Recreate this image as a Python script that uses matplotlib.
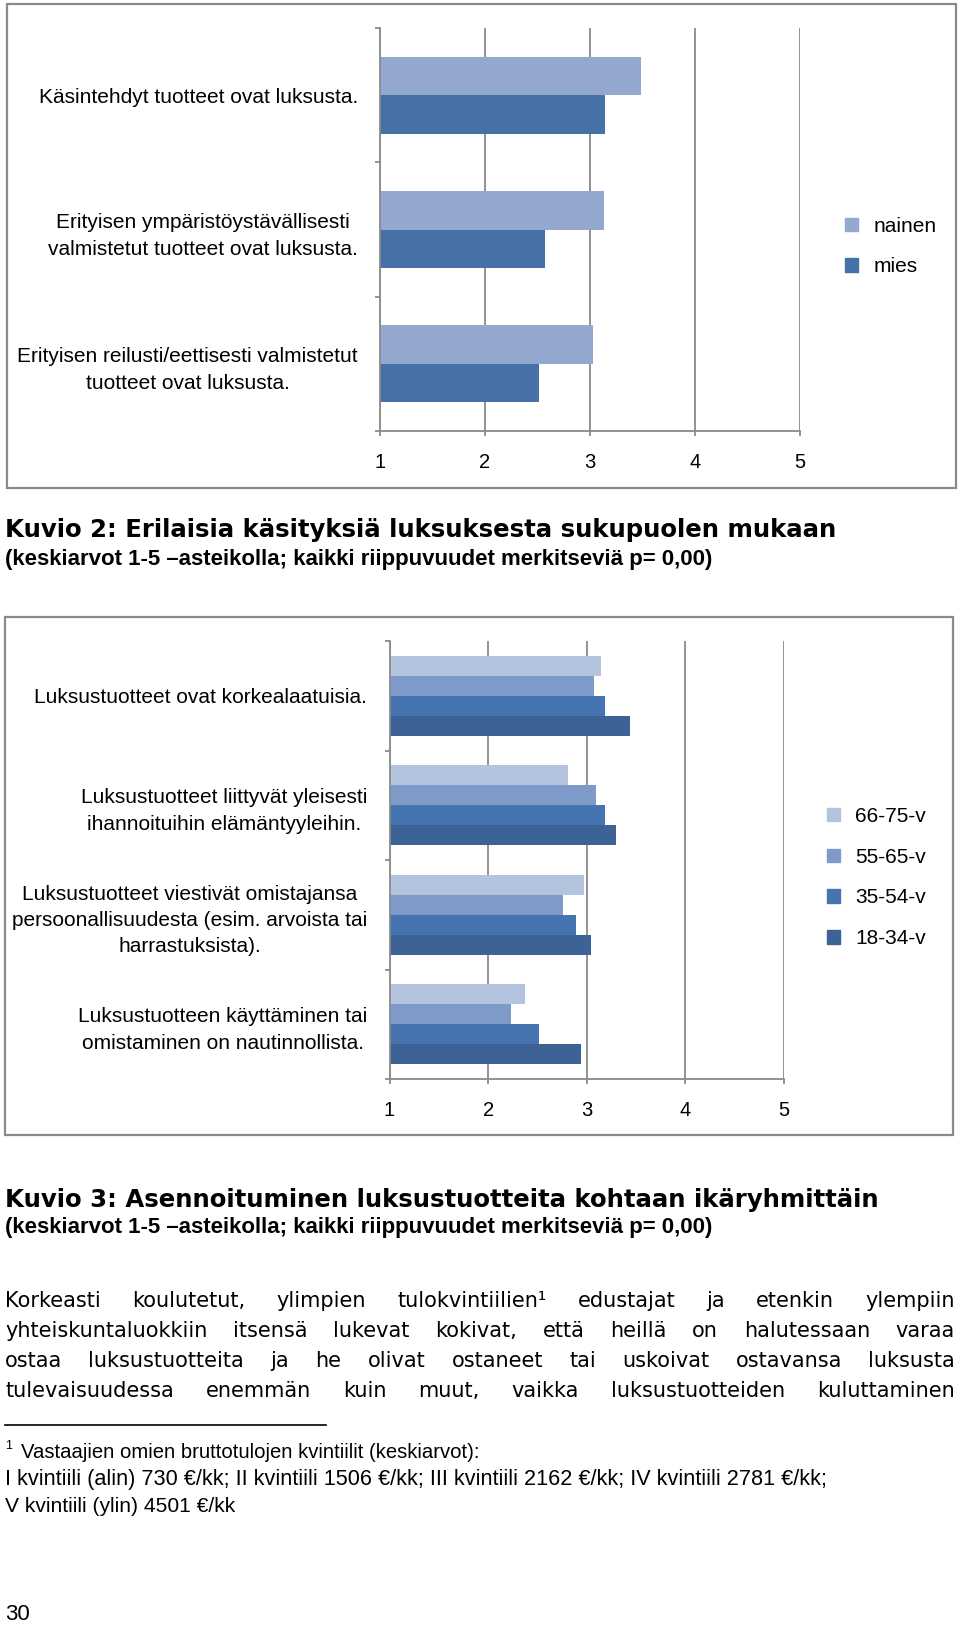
import matplotlib
matplotlib.use("Agg")
import matplotlib.pyplot as plt
from matplotlib.patches import Rectangle, Patch
from matplotlib.lines import Line2D

# ---------------- data ----------------
statements1 = ["Käsintehdyt tuotteet ovat luksusta.",
               "Erityisen ympäristöystävällisesti\nvalmistetut tuotteet ovat luksusta.",
               "Erityisen reilusti/eettisesti valmistetut\ntuotteet ovat luksusta."]
series1 = ["nainen", "mies"]
nainen = [3.49, 3.13, 3.03]
mies = [3.14, 2.57, 2.51]

statements2 = ["Luksustuotteet ovat korkealaatuisia.",
               "Luksustuotteet liittyvät yleisesti\nihannoituihin elämäntyyleihin.",
               "Luksustuotteet viestivät omistajansa\npersoonallisuudesta (esim. arvoista tai\nharrastuksista).",
               "Luksustuotteen käyttäminen tai\nomistaminen on nautinnollista."]
series2 = ["66-75-v", "55-65-v", "35-54-v", "18-34-v"]
age_66_75 = [3.14, 2.81, 2.97, 2.37]
age_55_65 = [3.07, 3.09, 2.76, 2.23]
age_35_54 = [3.18, 3.18, 2.89, 2.52]
age_18_34 = [3.44, 3.30, 3.04, 2.94]

xticks = [1, 2, 3, 4, 5]

# ---------------- figure ----------------
W, H = 960, 1627
fig = plt.figure(figsize=(W / 100, H / 100), dpi=100)
fig.patch.set_facecolor("white")
SANS = ["Liberation Sans", "DejaVu Sans"]
GRAY = "#8a8a8a"


def fx(x):
    return x / W


def fy(y):
    return 1 - y / H


def axes_px(x0, y0, x1, y1):
    return fig.add_axes([fx(x0), fy(y1), (x1 - x0) / W, (y1 - y0) / H])


def frame(x0, y0, x1, y1):
    fig.add_artist(Rectangle((fx(x0), fy(y1)), (x1 - x0) / W, (y1 - y0) / H,
                             transform=fig.transFigure, fill=False,
                             edgecolor=GRAY, linewidth=1.6))


def style_axes(ax, n):
    ax.set_xlim(1, 5)
    ax.set_ylim(n - 0.5, -0.5)
    ax.set_xticks(xticks)
    ax.set_xticklabels([str(t) for t in xticks], fontsize=14.5, family=SANS)
    for s in ["top", "right"]:
        ax.spines[s].set_visible(False)
    for s in ["left", "bottom"]:
        ax.spines[s].set_color(GRAY)
        ax.spines[s].set_linewidth(1.3)
    ax.grid(axis="x", color=GRAY, linewidth=1.3)
    ax.set_axisbelow(True)
    ax.tick_params(axis="x", direction="out", length=3.6, width=1.3,
                   color=GRAY, pad=12)
    ax.set_yticks(range(n))
    ax.set_yticks([i - 0.5 for i in range(n + 1)], minor=True)
    ax.tick_params(axis="y", which="major", length=0, pad=16)
    ax.tick_params(axis="y", which="minor", direction="out", length=3.6,
                   width=1.3, color=GRAY)


# ---------------- chart 1 ----------------
frame(7, 4, 956, 488)
ax1 = axes_px(380, 28, 800, 431)
c1 = ["#94a8cf", "#4571a6"]
h1 = 0.287
y1 = list(range(len(statements1)))
ax1.barh([y - h1 / 2 for y in y1], nainen, height=h1, color=c1[0], label=series1[0])
ax1.barh([y + h1 / 2 for y in y1], mies, height=h1, color=c1[1], label=series1[1])
style_axes(ax1, len(statements1))
ax1.set_yticklabels(statements1, fontsize=15, family=SANS,
                    multialignment="center", linespacing=1.55)
fig.legend(handles=[Patch(color=c1[0], label=series1[0]),
                    Patch(color=c1[1], label=series1[1])],
           loc="center left", bbox_to_anchor=(fx(845), fy(246.5)),
           frameon=False, prop={"family": SANS, "size": 15},
           handlelength=0.6, handleheight=0.6, handletextpad=0.75,
           labelspacing=1.05, borderpad=0, borderaxespad=0)

# ---------------- chart 2 ----------------
frame(5, 617, 953, 1135)
ax2 = axes_px(389.5, 641, 784, 1079)
c2 = ["#b4c3de", "#7d9ac8", "#4674b0", "#3c6296"]
vals2 = [age_66_75, age_55_65, age_35_54, age_18_34]
h2 = 0.1826
y2 = list(range(len(statements2)))
for k, (v, c, lab) in enumerate(zip(vals2, c2, series2)):
    ax2.barh([y + (k - 1.5) * h2 for y in y2], v, height=h2, color=c, label=lab)
style_axes(ax2, len(statements2))
ax2.set_yticklabels(statements2, fontsize=15, family=SANS,
                    multialignment="center", linespacing=1.5)
fig.legend(handles=[Patch(color=c, label=l) for c, l in zip(c2, series2)],
           loc="center left", bbox_to_anchor=(fx(827), fy(877.5)),
           frameon=False, prop={"family": SANS, "size": 15},
           handlelength=0.6, handleheight=0.6, handletextpad=0.75,
           labelspacing=1.05, borderpad=0, borderaxespad=0)

# ---------------- text ----------------
renderer = fig.canvas.get_renderer()


def fit_text(x, y, s, target_w, size0, **kw):
    t = fig.text(fx(x), fy(y), s, fontsize=size0, ha="left", va="center", **kw)
    w = t.get_window_extent(renderer).width
    t.set_fontsize(size0 * target_w / w)
    return t


def justify(y, line, x0, x1, size, **kw):
    words = line.split(" ")
    ts = [fig.text(0, fy(y), w_, fontsize=size, ha="left", va="center", **kw)
          for w_ in words]
    ws = [t.get_window_extent(renderer).width for t in ts]
    gap = (x1 - x0 - sum(ws)) / (len(ws) - 1)
    x = x0
    for t, w_ in zip(ts, ws):
        t.set_x(fx(x))
        x += w_ + gap


title2 = "Kuvio 2: Erilaisia käsityksiä luksuksesta sukupuolen mukaan"
title3 = "Kuvio 3: Asennoituminen luksustuotteita kohtaan ikäryhmittäin"
subtitle = "(keskiarvot 1-5 –asteikolla; kaikki riippuvuudet merkitseviä p= 0,00)"

fit_text(5, 530, title2, 838, 15, family=["DejaVu Sans"], fontweight="bold")
fit_text(5, 560, subtitle, 711, 14, family=SANS, fontweight="bold")
fit_text(5, 1200, title3, 879, 15, family=["DejaVu Sans"], fontweight="bold")
fit_text(5, 1228, subtitle, 711, 14, family=SANS, fontweight="bold")

para = ["Korkeasti koulutetut, ylimpien tulokvintiilien¹ edustajat ja etenkin ylempiin",
        "yhteiskuntaluokkiin itsensä lukevat kokivat, että heillä on halutessaan varaa",
        "ostaa luksustuotteita ja he olivat ostaneet tai uskoivat ostavansa luksusta",
        "tulevaisuudessa enemmän kuin muut, vaikka luksustuotteiden kuluttaminen"]
for i, line in enumerate(para):
    justify(1301 + 30 * i, line, 5, 955, 15, family=["DejaVu Sans"])

fig.add_artist(Line2D([fx(5), fx(326)], [fy(1425), fy(1425)],
                      transform=fig.transFigure, color="black", linewidth=1.2))

fig.text(fx(5), fy(1446), "1", fontsize=9, family=SANS, ha="left", va="center")
fit_text(21, 1453, "Vastaajien omien bruttotulojen kvintiilit (keskiarvot):", 457, 13.5,
         family=SANS)
fit_text(5, 1480, "I kvintiili (alin) 730 €/kk; II kvintiili 1506 €/kk; III kvintiili 2162 €/kk; "
         "IV kvintiili 2781 €/kk;", 820, 13.5, family=SANS)
fit_text(5, 1507, "V kvintiili (ylin) 4501 €/kk", 230, 13.5, family=SANS)
fig.text(fx(5), fy(1614), "30", fontsize=16, family=SANS, ha="left", va="center")

fig.savefig("out.png", dpi=100, facecolor="white")
